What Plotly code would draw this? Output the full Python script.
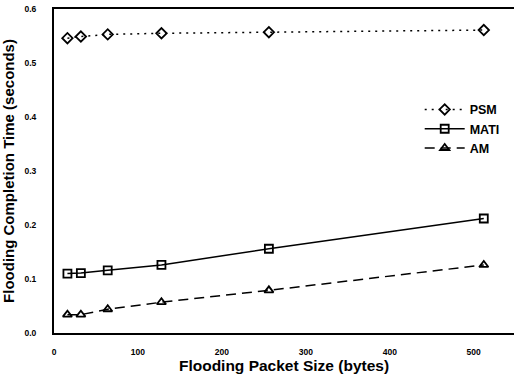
import plotly.graph_objects as go

packet_sizes = [16, 32, 64, 128, 256, 512]
psm = [0.546, 0.549, 0.553, 0.555, 0.557, 0.561]
mati = [0.110, 0.111, 0.116, 0.126, 0.156, 0.212]
am = [0.034, 0.034, 0.044, 0.057, 0.079, 0.126]

x_ticks = [0, 100, 200, 300, 400, 500]
y_ticks = [0.0, 0.1, 0.2, 0.3, 0.4, 0.5, 0.6]
y_tick_text = ["0.0", "0.1", "0.2", "0.3", "0.4", "0.5", "0.6"]

font_bold = "Liberation Sans"

fig = go.Figure()
fig.add_trace(go.Scatter(
    x=packet_sizes, y=psm, name="<b>PSM</b>", mode="lines+markers",
    line=dict(color="black", width=1.5, dash="2px,5px"),
    marker=dict(symbol="diamond-open", size=8, color="black", line=dict(width=1.8))))
fig.add_trace(go.Scatter(
    x=packet_sizes, y=mati, name="<b>MATI</b>", mode="lines+markers",
    line=dict(color="black", width=1.5),
    marker=dict(symbol="square-open", size=8, color="black", line=dict(width=1.8))))
fig.add_trace(go.Scatter(
    x=packet_sizes, y=am, name="<b>AM</b>", mode="lines+markers",
    line=dict(color="black", width=1.5, dash="10px,6px"),
    marker=dict(symbol="triangle-up-open", size=8, color="black", line=dict(width=1.8))))

fig.update_layout(
    width=514, height=383,
    margin=dict(l=54, r=0, t=9, b=50),
    paper_bgcolor="white", plot_bgcolor="white",
    font=dict(family=font_bold, color="black"),
    showlegend=True,
    legend=dict(x=0.795, y=0.735, xanchor="left", yanchor="top",
                bgcolor="rgba(0,0,0,0)", font=dict(size=12.5, family=font_bold),
                tracegroupgap=0, itemwidth=40),
    xaxis=dict(range=[0, 548], tickvals=x_ticks,
               ticktext=["<b>%d</b>" % v for v in x_ticks],
               tickfont=dict(size=8.5), showgrid=False, zeroline=False,
               showline=True, linecolor="black", linewidth=2, mirror=True,
               ticks="", ticklabelstandoff=10,
               title=dict(text="<b>Flooding Packet Size (bytes)</b>",
                          font=dict(size=15.5), standoff=1)),
    yaxis=dict(range=[0, 0.6], tickvals=y_ticks,
               ticktext=["<b>%s</b>" % t for t in y_tick_text],
               tickfont=dict(size=8.5), showgrid=False, zeroline=False,
               showline=True, linecolor="black", linewidth=2,
               ticks="", ticklabelstandoff=14,
               title=dict(text="<b>Flooding Completion Time (seconds)</b>",
                          font=dict(size=15), standoff=9)),
)

fig.write_html("out.html")
